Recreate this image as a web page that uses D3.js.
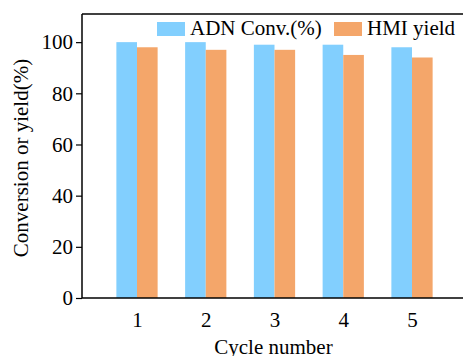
<!DOCTYPE html>
<html>
<head>
<meta charset="utf-8">
<script src="https://cdn.jsdelivr.net/npm/d3@7"></script>
<style>
  html, body { margin: 0; padding: 0; background: #fff; }
  svg { display: block; font-family: "Liberation Serif", "Times New Roman", serif; }
</style>
</head>
<body>
<svg id="chart" width="463" height="356"></svg>
<script>
// Catalyst recycling: ADN conversion and HMI yield per cycle
const cycles = [1, 2, 3, 4, 5];
const adnConversion = [100, 100, 99, 99, 98];
const hmiYield = [98, 97, 97, 95, 94];
const yTicks = [0, 20, 40, 60, 80, 100];
const seriesNames = ["ADN Conv.(%)", "HMI yield"];
const seriesColors = ["#82cffe", "#f4a66a"];

const svg = d3.select("#chart");
const plotLeft = 82, plotTop = 14, plotBottom = 298, plotRight = 467;

const x = d3.scaleLinear().domain([0.2, 5.8]).range([plotLeft, plotRight]);
const y = d3.scaleLinear().domain([0, 111]).range([plotBottom, plotTop]);
const barW = 0.3;

const series = [adnConversion, hmiYield];

// bars
series.forEach((vals, si) => {
  svg.append("g").selectAll("rect")
    .data(cycles.map((c, i) => ({ c, v: vals[i] })))
    .join("rect")
    .attr("x", d => x(d.c - barW + si * barW))
    .attr("width", d => x(d.c + barW) - x(d.c))
    .attr("y", d => y(d.v))
    .attr("height", d => y(0) - y(d.v))
    .attr("fill", seriesColors[si]);
});

// frame: top line
svg.append("line")
  .attr("x1", plotLeft).attr("x2", plotRight)
  .attr("y1", plotTop).attr("y2", plotTop)
  .attr("stroke", "#000").attr("stroke-width", 1.5);

// y axis
const yAxis = svg.append("g")
  .attr("transform", `translate(${plotLeft},0)`)
  .call(d3.axisLeft(y).tickValues(yTicks).tickSize(6).tickPadding(3).tickSizeOuter(0));
yAxis.select(".domain").remove();
yAxis.append("line").attr("x1", 0).attr("x2", 0).attr("y1", plotTop).attr("y2", plotBottom)
  .attr("stroke", "#000").attr("stroke-width", 1.5);
yAxis.selectAll(".tick line").attr("stroke-width", 1.2);
yAxis.selectAll("text").attr("font-size", 21).attr("fill", "#000")
  .attr("font-family", "Liberation Serif");

// x axis
const xAxis = svg.append("g")
  .attr("transform", `translate(0,${plotBottom})`)
  .call(d3.axisBottom(x).tickValues(cycles).tickFormat(d3.format("d")).tickSize(0).tickPadding(14));
xAxis.select(".domain").remove();
xAxis.append("line").attr("x1", plotLeft).attr("x2", plotRight).attr("y1", 0).attr("y2", 0)
  .attr("stroke", "#000").attr("stroke-width", 1.5);
xAxis.selectAll("text").attr("font-size", 21).attr("fill", "#000")
  .attr("font-family", "Liberation Serif");

// axis titles
svg.append("text")
  .attr("x", (plotLeft + 463) / 2 + 1).attr("y", 354)
  .attr("text-anchor", "middle").attr("font-size", 21)
  .text("Cycle number");
svg.append("text")
  .attr("transform", "translate(28,158) rotate(-90)")
  .attr("text-anchor", "middle").attr("font-size", 21)
  .text("Conversion or yield(%)");

// legend
const legendX = [157, 334];
seriesNames.forEach((name, i) => {
  const g = svg.append("g").attr("transform", `translate(${legendX[i]},22)`);
  g.append("rect").attr("width", 28).attr("height", 14).attr("fill", seriesColors[i]);
  g.append("text").attr("x", 33).attr("y", 13).attr("font-size", 21).text(name);
});
</script>
</body>
</html>
